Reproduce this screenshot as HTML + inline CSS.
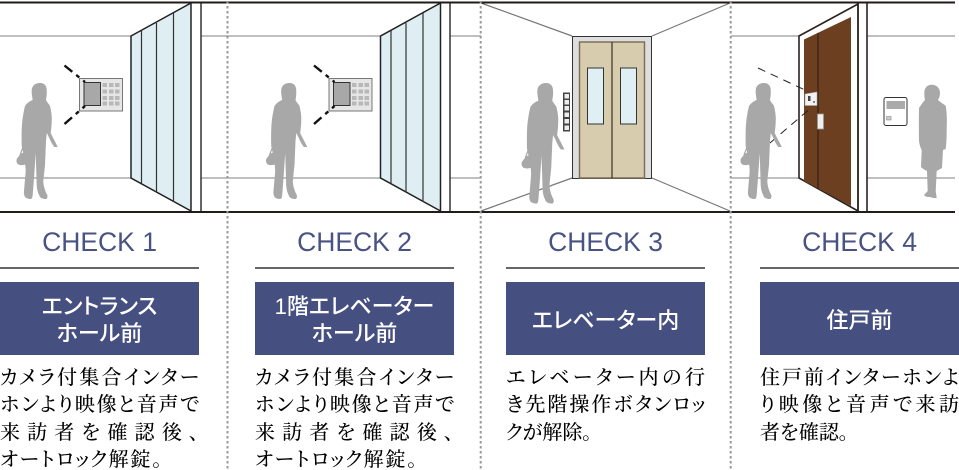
<!DOCTYPE html>
<html lang="ja"><head><meta charset="utf-8"><title>CHECK</title>
<style>
html,body{margin:0;padding:0;background:#fff}
#p{position:relative;width:959px;height:470px;overflow:hidden;background:#fff}
svg{position:absolute;left:0;top:0}
.c{position:absolute;width:199px;top:0}
.h{position:absolute;top:227px;left:0;width:199px;text-align:center;font:26.500px/30px "Liberation Sans",sans-serif;color:#485383}
.r{position:absolute;top:267px;left:0;width:199px;height:2px;background:#666}
.b{position:absolute;top:282px;left:0;width:199px;height:73px;padding-top:3px;box-sizing:border-box;background:#454f80;color:#fff;display:flex;align-items:center;justify-content:center;text-align:center;font:500 22px/27px "Liberation Sans","Noto Sans CJK JP",sans-serif;font-feature-settings:"palt"}
.d{position:absolute;top:365px;left:0;width:199px;font:500 20px/27.3px "Liberation Serif","Noto Serif CJK JP",serif;color:#000;font-feature-settings:"palt"}
.d div{text-align:justify;text-align-last:justify;white-space:nowrap;height:27.3px}
.d div.l{text-align-last:left}
.d div.s{letter-spacing:1.900px}
</style></head><body><div id="p">
<svg width="959" height="470" viewBox="0 0 959 470">
<defs>
<g id="w">
<path fill="#a8a8a8" d="M40,83C44.500,83 46.700,86 46.700,90C47,94 46.500,97 46,100C47.500,103 49,104 50,106C51.500,112 52,117 51.700,121C51.700,126 51,130 50.700,133C53,138 56,143 57.700,147L54.300,147C52,144 50.500,141 49.300,138L46.800,133L46,141L45,165L43.300,181C43.500,186 45,191 47.300,195C47.800,197 47,199 46,199C43,199 41,198 40,197C38,193 37,190 36.700,185L35.700,153L34,178L32.700,195C32.500,197 32,199 30.700,199C28,199 26,198 25,197C24,195 23.700,193 24,191L25.700,171L25,161L21.700,146C21.500,137 21.500,128 22.300,121C23,115 24,110 25,106C27,103 30,101 32.700,100C32,96 31.500,93 31.700,90C32,86 35,83 40,83Z"/>
<path fill="#a8a8a8" d="M19,156C21,153 23,152 26,153L28,156V162C26,165 23,165.500 20,165C17,164.500 16,162 16.700,159Z"/>
<path fill="none" stroke="#a8a8a8" stroke-width="1.200" d="M20,155L23.500,146L26,155"/>
</g>
<g id="ent">
<rect x="79.500" y="78.500" width="43" height="32.500" fill="#e6e6e6" stroke="#777"/>
<rect x="84" y="82.500" width="16.500" height="23" fill="#a8a8a8" stroke="#333"/>
<g fill="#b8b8b8">
<rect x="102.500" y="83" width="4.500" height="4"/><rect x="109" y="83" width="4.500" height="4"/><rect x="115" y="83" width="4.500" height="4"/>
<rect x="102.500" y="89.500" width="4.500" height="4"/><rect x="109" y="89.500" width="4.500" height="4"/><rect x="115" y="89.500" width="4.500" height="4"/>
<rect x="102.500" y="96" width="4.500" height="4"/><rect x="109" y="96" width="4.500" height="4"/><rect x="115" y="96" width="4.500" height="4"/>
<rect x="102.500" y="101.500" width="4.500" height="4"/><rect x="109" y="101.500" width="4.500" height="4"/><rect x="115" y="101.500" width="4.500" height="4"/>
</g>
<path d="M64.500,65.500L85,82M64.500,124L85,106" stroke="#111" stroke-width="2.400" stroke-dasharray="10 5 4 5 4 5" fill="none"/>
<path d="M131,36L191,3V211L131,178Z" fill="#deeef2" stroke="#222" stroke-width="1.500"/>
<path d="M141.500,31V183.500M156.500,23V192M173.500,13V201.500" stroke="#333" stroke-width="1.200"/>
<use href="#w"/>
</g>
</defs>
<path d="M0,36H131M201,36H380M450,36H481M731,36H799M867,36H955M0,178H131M201,178H380M450,178H481M731,178H799M867,178H955" stroke="#999" stroke-width="1.300" fill="none"/>
<use href="#ent"/>
<use href="#ent" x="249.500"/>
<path d="M201,3V212M450,3V212" stroke="#333" stroke-width="1.500"/>
<path d="M481,3L572,36M730,3L652,36M481,211L572,178M730,211L652,178" stroke="#777" stroke-width="1.200"/>
<rect x="572.500" y="36.500" width="79" height="142" fill="#dedede" stroke="#333"/>
<rect x="579.500" y="42" width="65" height="136" fill="#d8ccae" stroke="#7d705a" stroke-width="1.500"/>
<path d="M612,42V178" stroke="#3a3022" stroke-width="1.200"/>
<rect x="587.500" y="68" width="16" height="56" fill="#e0eff3" stroke="#333"/>
<rect x="620.500" y="68" width="16" height="56" fill="#e0eff3" stroke="#333"/>
<rect x="563" y="92.500" width="7" height="39" fill="#444"/>
<g fill="#eee"><rect x="564.500" y="94" width="4.500" height="4.500"/><rect x="564.500" y="100" width="4.500" height="4.500"/><rect x="564.500" y="106" width="4.500" height="4.500"/><rect x="564.500" y="112.500" width="4.500" height="4.500"/><rect x="564.500" y="119" width="4.500" height="4.500"/><rect x="564.500" y="125.500" width="4.500" height="4.500"/></g>
<use href="#w" transform="translate(545.5 83) scale(1.040) translate(-39.500 -83)"/>
<path d="M799,36L858,4V211L799,178Z" fill="#fff" stroke="#2a2320" stroke-width="1.600"/>
<path d="M804,39.500L851,17V206L804,181Z" fill="#6b3f20"/>
<path d="M818,33V189" stroke="#2a1a10" stroke-width="1"/>
<path d="M858,3V212M867,3V212" stroke="#2a2320" stroke-width="1.600"/>
<path d="M805,94L817,92V105.500H805Z" fill="#f2f2f2" stroke="#aaa" stroke-width=".6"/>
<rect x="808" y="96" width="2.500" height="5" fill="#444"/><rect x="813" y="101" width="2" height="2" fill="#888"/>
<rect x="817.500" y="114" width="6" height="15" fill="#eee" stroke="#999" stroke-width=".8"/>
<path d="M758,68L805,90M770,143L812,107" stroke="#222" stroke-width="1" stroke-dasharray="8 6" fill="none"/>
<use href="#w" x="724"/>
<rect x="884" y="97.500" width="23" height="28" rx="2" fill="#fff" stroke="#333" stroke-width="1"/>
<rect x="886.500" y="101" width="18.500" height="8" fill="#aaa"/>
<rect x="886.500" y="116.500" width="4.500" height="3.500" fill="#ccc" stroke="#777" stroke-width=".5"/>
<path fill="#a8a8a8" d="M931.700,84.700C936.500,84.700 940,88 940,93C940,96 939,98 938,100C941,103 944,104 945.700,106C947,113 947,120 946.700,128C946.700,136 946.500,143 945.700,149L943,150L942,168L936.700,171L935.700,191L936.700,198C934,198.500 932,197.500 930,197C928,197 925,197 924,195L927.700,191L927,171C925,170 923,169 921,167L921.700,150C920,147 919.500,144 919,141C918.800,130 918.800,118 919,108C921,105 923,102 925,100C924.500,98 924.300,95 924.300,93C924.300,88 927,84.700 931.700,84.700Z"/>
<path d="M0,2.500H955M0,212H955" stroke="#231a1a" stroke-width="2"/>
<path d="M227.500,1V470M480.700,1V470M730.700,1V470" stroke="#999" stroke-width="2" stroke-dasharray="2.500 2.500"/>
</svg>

<div class="c" style="left:0"><div class="h">CHECK 1</div><div class="r"></div><div class="b"><span>エントランス<br>ホール前</span></div>
<div class="d"><div>カメラ付集合インター</div><div>ホンより映像と音声で</div><div>来訪者を確認後、</div><div class="l s">オートロック解錠。</div></div></div>

<div class="c" style="left:255px"><div class="h">CHECK 2</div><div class="r"></div><div class="b"><span>1階エレベーター<br>ホール前</span></div>
<div class="d"><div>カメラ付集合インター</div><div>ホンより映像と音声で</div><div>来訪者を確認後、</div><div class="l s">オートロック解錠。</div></div></div>

<div class="c" style="left:506px"><div class="h">CHECK 3</div><div class="r"></div><div class="b"><span>エレベーター内</span></div>
<div class="d"><div>エレベーター内の行</div><div>き先階操作ボタンロッ</div><div class="l">クが解除。</div></div></div>

<div class="c" style="left:760px"><div class="h">CHECK 4</div><div class="r"></div><div class="b"><span>住戸前</span></div>
<div class="d"><div>住戸前インターホンよ</div><div>り映像と音声で来訪</div><div class="l">者を確認。</div></div></div>
</div></body></html>
